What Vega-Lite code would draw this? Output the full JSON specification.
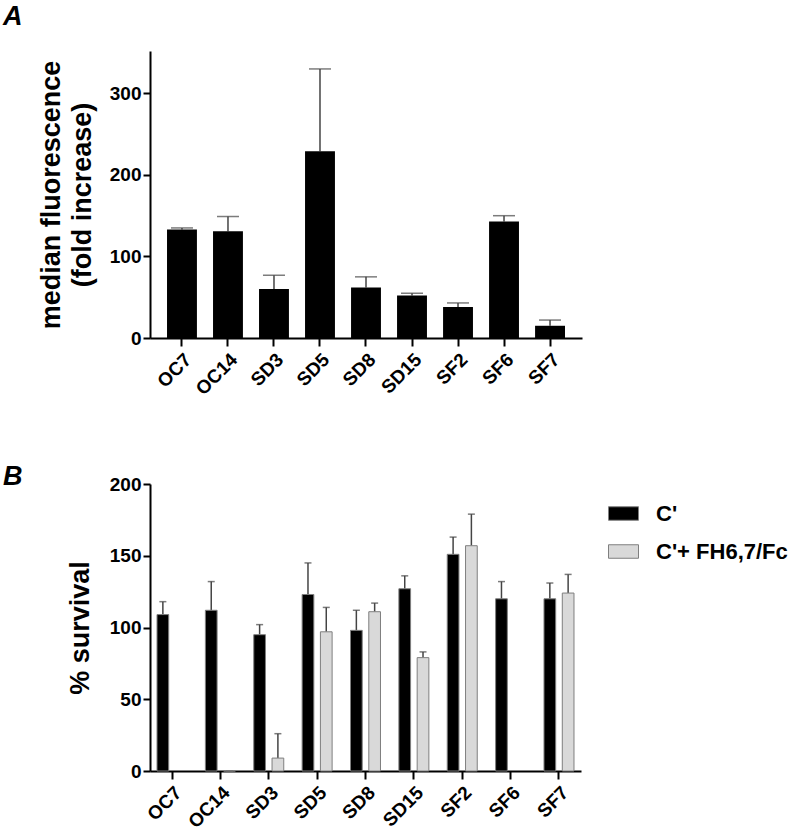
{
  "$schema": "https://vega.github.io/schema/vega-lite/v6.json",
  "padding": {"left": 3, "top": 3, "right": 5, "bottom": 5},
  "background": "white",
  "config": {
    "font": "Liberation Sans",
    "view": {"stroke": null},
    "axis": {
      "domainColor": "black", "domainWidth": 2, "tickColor": "black", "tickWidth": 2, "tickSize": 7,
      "labelFont": "Liberation Sans", "labelFontWeight": "bold", "labelFontSize": 19, "labelColor": "black",
      "titleFont": "Liberation Sans", "titleFontWeight": "bold", "titleFontSize": 27, "titleColor": "black",
      "grid": false
    },
    "title": {"font": "Liberation Sans", "fontSize": 27, "fontWeight": "bold", "fontStyle": "italic", "color": "black"}
  },
  "datasets": {
    "fluor": [
      {"strain": "OC7", "mean": 133, "err": 2},
      {"strain": "OC14", "mean": 131, "err": 18},
      {"strain": "SD3", "mean": 60, "err": 17},
      {"strain": "SD5", "mean": 229, "err": 101},
      {"strain": "SD8", "mean": 62, "err": 13},
      {"strain": "SD15", "mean": 52, "err": 3},
      {"strain": "SF2", "mean": 38, "err": 5},
      {"strain": "SF6", "mean": 143, "err": 7},
      {"strain": "SF7", "mean": 15, "err": 7}
    ],
    "surv": [
      {"strain": "OC7", "group": "C'", "mean": 109, "err": 9},
      {"strain": "OC14", "group": "C'", "mean": 112, "err": 20},
      {"strain": "OC14", "group": "C'+ FH6,7/Fc", "mean": 0, "err": 0},
      {"strain": "SD3", "group": "C'", "mean": 95, "err": 7},
      {"strain": "SD3", "group": "C'+ FH6,7/Fc", "mean": 9, "err": 17},
      {"strain": "SD5", "group": "C'", "mean": 123, "err": 22},
      {"strain": "SD5", "group": "C'+ FH6,7/Fc", "mean": 97, "err": 17},
      {"strain": "SD8", "group": "C'", "mean": 98, "err": 14},
      {"strain": "SD8", "group": "C'+ FH6,7/Fc", "mean": 111, "err": 6},
      {"strain": "SD15", "group": "C'", "mean": 127, "err": 9},
      {"strain": "SD15", "group": "C'+ FH6,7/Fc", "mean": 79, "err": 4},
      {"strain": "SF2", "group": "C'", "mean": 151, "err": 12},
      {"strain": "SF2", "group": "C'+ FH6,7/Fc", "mean": 157, "err": 22},
      {"strain": "SF6", "group": "C'", "mean": 120, "err": 12},
      {"strain": "SF7", "group": "C'", "mean": 120, "err": 11},
      {"strain": "SF7", "group": "C'+ FH6,7/Fc", "mean": 124, "err": 13}
    ]
  },
  "spacing": 64,
  "resolve": {"legend": {"color": "independent"}},
  "vconcat": [
    {
      "title": {"text": "A", "anchor": "start", "frame": "group", "dx": -147, "offset": 20},
      "width": 432,
      "height": 287,
      "data": {"name": "fluor"},
      "transform": [{"calculate": "datum.mean + datum.err", "as": "hi"}],
      "encoding": {
        "x": {
          "field": "strain", "type": "nominal", "sort": null,
          "scale": {"paddingInner": 0.35, "paddingOuter": 0.37},
          "axis": {"title": null, "labelAngle": -45, "tickSize": 8, "labelPadding": 4}
        }
      },
      "layer": [
        {
          "mark": {"type": "rule", "color": "#444", "strokeWidth": 1.5},
          "encoding": {
            "y": {"field": "mean", "type": "quantitative"},
            "y2": {"field": "hi"}
          }
        },
        {
          "mark": {"type": "tick", "color": "#444", "thickness": 1.5, "size": 22},
          "encoding": {"y": {"field": "hi", "type": "quantitative"}}
        },
        {
          "mark": {"type": "bar", "color": "black"},
          "encoding": {
            "y": {
              "field": "mean", "type": "quantitative",
              "scale": {"domain": [0, 352], "nice": false},
              "axis": {"title": ["median fluorescence", "(fold increase)"], "values": [0, 100, 200, 300], "titlePadding": 13, "titleLineHeight": 31}
            }
          }
        }
      ]
    },
    {
      "title": {"text": "B", "anchor": "start", "frame": "group", "dx": -147, "offset": -16},
      "width": 431,
      "height": 287,
      "data": {"name": "surv"},
      "transform": [{"calculate": "datum.mean + datum.err", "as": "hi"}],
      "encoding": {
        "x": {
          "field": "strain", "type": "nominal",
          "sort": ["OC7", "OC14", "SD3", "SD5", "SD8", "SD15", "SF2", "SF6", "SF7"],
          "scale": {"paddingInner": 0.38, "paddingOuter": 0.145},
          "axis": {"title": null, "labelAngle": -45, "tickSize": 8, "labelPadding": 4}
        },
        "xOffset": {
          "field": "group", "type": "nominal",
          "scale": {"domain": ["C'", "C'+ FH6,7/Fc"], "paddingInner": 0.36, "paddingOuter": 0}
        }
      },
      "layer": [
        {
          "mark": {"type": "rule", "color": "#444", "strokeWidth": 1.5},
          "encoding": {
            "y": {"field": "mean", "type": "quantitative"},
            "y2": {"field": "hi"}
          }
        },
        {
          "mark": {"type": "tick", "color": "#444", "thickness": 1.5, "size": 7},
          "encoding": {"y": {"field": "hi", "type": "quantitative"}}
        },
        {
          "mark": {"type": "bar", "stroke": "#7f7f7f", "strokeWidth": 1},
          "encoding": {
            "y": {
              "field": "mean", "type": "quantitative",
              "scale": {"domain": [0, 200], "nice": false},
              "axis": {"title": "% survival", "values": [0, 50, 100, 150, 200], "titlePadding": 15}
            },
            "color": {
              "field": "group", "type": "nominal",
              "scale": {"domain": ["C'", "C'+ FH6,7/Fc"], "range": ["#000000", "#d9d9d9"]},
              "legend": {
                "title": null, "orient": "none", "legendX": 458, "legendY": 14,
                "symbolType": "M-1,-0.45H1V0.45H-1Z", "symbolSize": 900,
                "symbolStrokeColor": "#7f7f7f", "symbolStrokeWidth": 1,
                "labelFont": "Liberation Sans", "labelFontSize": 22, "labelFontWeight": "bold", "labelColor": "black",
                "labelOffset": 17, "rowPadding": 11
              }
            }
          }
        }
      ]
    }
  ]
}
